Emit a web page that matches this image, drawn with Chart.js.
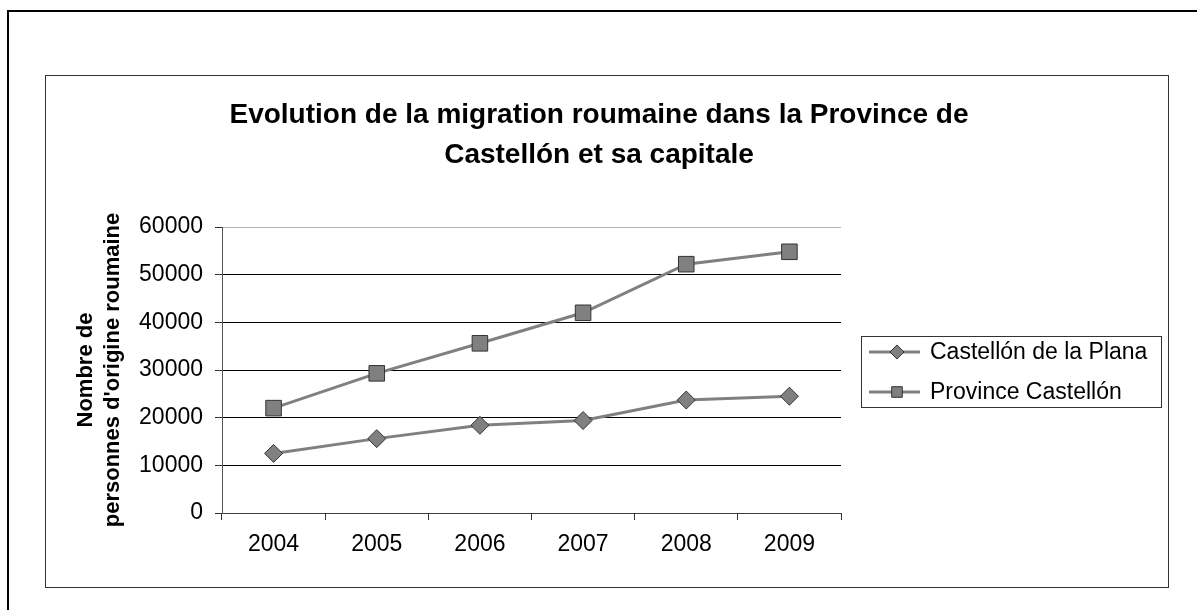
<!DOCTYPE html>
<html><head><meta charset="utf-8">
<script src="https://cdn.jsdelivr.net/npm/chart.js@4.4.1/dist/chart.umd.min.js"></script>
<style>
html,body{margin:0;padding:0;background:#fff;width:1197px;height:610px;overflow:hidden;}
#outer{position:absolute;left:7px;top:10px;width:1300px;height:700px;border-left:2px solid #000;border-top:2px solid #000;}
#box{position:absolute;left:45px;top:75px;width:1122px;height:511px;border:1px solid #333;background:#fff;}
#box canvas{display:block}
</style></head><body>
<div id="outer"></div>
<div id="box"><canvas id="c" width="1122" height="511"></canvas></div>
<script>
const categories = ['2004','2005','2006','2007','2008','2009'];
const castellonPlana = [12500,15600,18400,19400,23700,24500];
const provinceCastellon = [22000,29300,35600,42000,52200,54800];
const seriesNames = ['Castellón de la Plana','Province Castellón'];
const titleLines = ['Evolution de la migration roumaine dans la Province de','Castellón et sa capitale'];
const yTitleLines = ['Nombre de',"personnes d'origine roumaine"];
const yMin = 0, yMax = 60000, yStep = 10000;

const FONT = "'Liberation Sans', Arial, Helvetica, sans-serif";

const titlePlugin = {
  id: 'customTitle',
  afterDraw(chart) {
    const ctx = chart.ctx;
    ctx.save();
    ctx.fillStyle = '#000';
    ctx.font = 'bold 28px ' + FONT;
    ctx.textAlign = 'center';
    ctx.textBaseline = 'middle';
    titleLines.forEach((t, i) => ctx.fillText(t, 553, 39 + i * 40));
    ctx.restore();
  }
};

const legendPlugin = {
  id: 'customLegend',
  afterDraw(chart) {
    const ctx = chart.ctx;
    const x0 = 815.5, y0 = 260.5, w = 300, h = 71;
    ctx.save();
    ctx.strokeStyle = '#333';
    ctx.lineWidth = 1;
    ctx.strokeRect(x0, y0, w, h);
    chart.data.datasets.forEach((ds, i) => {
      const cy = 276 + i * 40;
      ctx.strokeStyle = ds.borderColor;
      ctx.lineWidth = ds.borderWidth;
      ctx.beginPath();
      ctx.moveTo(823, cy);
      ctx.lineTo(874, cy);
      ctx.stroke();
      ctx.fillStyle = ds.pointBackgroundColor;
      ctx.strokeStyle = ds.pointBorderColor;
      ctx.lineWidth = 1;
      Chart.helpers.drawPoint(ctx, {pointStyle: ds.pointStyle, radius: ds.legendRadius, borderWidth: 1, rotation: 0}, 851, cy);
      ctx.fillStyle = '#000';
      ctx.font = '23px ' + FONT;
      ctx.textAlign = 'left';
      ctx.textBaseline = 'middle';
      ctx.fillText(ds.label, 884, cy + 1);
    });
    ctx.restore();
  }
};

new Chart(document.getElementById('c'), {
  type: 'line',
  data: {
    labels: categories,
    datasets: [
      {label: seriesNames[0], data: castellonPlana, borderColor: '#808080', borderWidth: 3,
       pointStyle: 'rectRot', pointRadius: 9, legendRadius: 7, pointBackgroundColor: '#808080',
       pointBorderColor: '#333', pointBorderWidth: 1, tension: 0},
      {label: seriesNames[1], data: provinceCastellon, borderColor: '#808080', borderWidth: 3,
       pointStyle: 'rect', pointRadius: 11, legendRadius: 7.5, pointBackgroundColor: '#808080',
       pointBorderColor: '#333', pointBorderWidth: 1, tension: 0}
    ]
  },
  options: {
    responsive: false,
    animation: false,
    devicePixelRatio: 1,
    layout: {padding: {left: 0, top: 151, right: 327, bottom: 0}},
    plugins: {legend: {display: false}, tooltip: {enabled: false}, title: {display: false}},
    scales: {
      x: {
        type: 'category',
        offset: true,
        grid: {offset: true, drawOnChartArea: false, drawTicks: true, tickLength: 7, color: '#333'},
        border: {color: '#404040', width: 1},
        ticks: {color: '#000', font: {family: FONT, size: 23}, padding: 11, maxRotation: 0},
        afterFit(s) { s.height = 74; }
      },
      y: {
        min: yMin, max: yMax,
        ticks: {stepSize: yStep, color: '#000', font: {family: FONT, size: 23}, padding: 12,
                callback: v => String(v)},
        grid: {color: c => (c.tick && c.tick.value === yMax) ? '#b0b0b0' : '#000', tickColor: '#333', tickLength: 7, lineWidth: 1},
        border: {color: '#555', width: 1},
        title: {display: true, text: yTitleLines, color: '#000', font: {family: FONT, size: 22, weight: 'bold', lineHeight: 1.23}, padding: {top: 26, bottom: 0}},
        afterFit(s) { s.width = 176; }
      }
    }
  },
  plugins: [titlePlugin, legendPlugin]
});
</script>
</body></html>
